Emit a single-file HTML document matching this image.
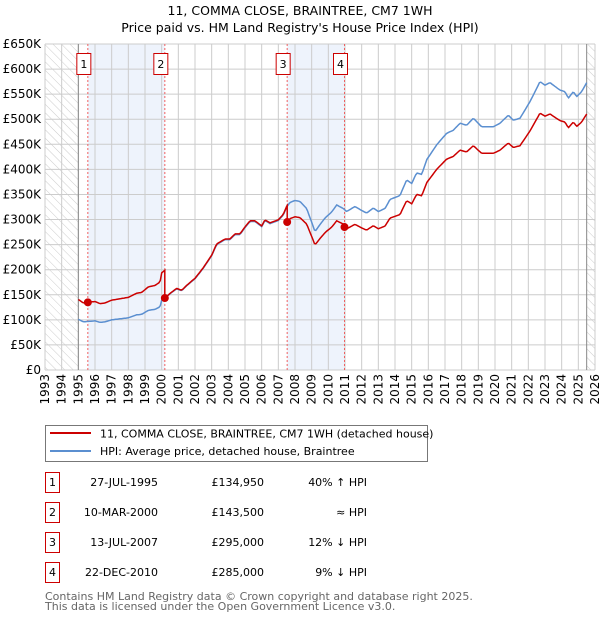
<!DOCTYPE html>
<html><head><meta charset="utf-8"><style>
body{margin:0;background:#fff;font-family:"Liberation Sans","DejaVu Sans",sans-serif}
svg text{font-family:"DejaVu Sans","Liberation Sans",sans-serif}
</style></head><body>
<svg id="c" width="600" height="620" xmlns="http://www.w3.org/2000/svg">
<defs><pattern id="hatch" width="6" height="6" patternUnits="userSpaceOnUse" patternTransform="rotate(-45)"><line x1="0" y1="0" x2="0" y2="6" stroke="#ccc" stroke-width="1"/></pattern></defs>
<text x="300" y="15" text-anchor="middle" font-size="12.5">11, COMMA CLOSE, BRAINTREE, CM7 1WH</text>
<text x="300" y="32" text-anchor="middle" font-size="12.5">Price paid vs. HM Land Registry's House Price Index (HPI)</text>
<g id="plot"></g>
<g>
<rect x="45.5" y="425.5" width="382" height="36" fill="#fff" stroke="#777"/>
<line x1="50" y1="433" x2="91" y2="433" stroke="#cc0000" stroke-width="2"/>
<text x="100" y="437.5" font-size="11">11, COMMA CLOSE, BRAINTREE, CM7 1WH (detached house)</text>
<line x1="50" y1="451" x2="91" y2="451" stroke="#5b8fd0" stroke-width="2"/>
<text x="100" y="455" font-size="11">HPI: Average price, detached house, Braintree</text>
</g>
<g id="table"></g>
<text x="45" y="600" font-size="11" fill="#666">Contains HM Land Registry data © Crown copyright and database right 2025.</text>
<text x="45" y="610" font-size="11" fill="#666">This data is licensed under the Open Government Licence v3.0.</text>
</svg>
<script>
const hpiYears=[1995.0,1995.3,1995.6,1996.0,1996.3,1996.6,1997.0,1997.5,1998.0,1998.5,1998.8,1999.2,1999.6,1999.9,2000.0,2000.2,2000.5,2000.9,2001.2,2001.5,2002.0,2002.5,2003.0,2003.3,2003.8,2004.1,2004.4,2004.7,2005.0,2005.3,2005.6,2006.0,2006.2,2006.5,2007.0,2007.3,2007.5,2007.7,2008.0,2008.3,2008.7,2009.2,2009.5,2009.8,2010.2,2010.5,2010.9,2011.1,2011.6,2012.0,2012.3,2012.7,2013.0,2013.4,2013.7,2014.3,2014.7,2015.0,2015.3,2015.6,2015.9,2016.5,2017.1,2017.5,2017.9,2018.3,2018.7,2019.2,2019.9,2020.3,2020.8,2021.1,2021.5,2022.1,2022.7,2023.0,2023.3,2023.9,2024.2,2024.4,2024.7,2024.9,2025.2,2025.5];
const hpiValues=[101,96,97,98,95,96,100,102,104,110,111,119,121,126,139,143,152,162,158,168,182,203,228,250,260,260,270,270,284,296,296,286,298,292,298,309,325,334,338,336,322,276,290,303,315,329,322,316,326,318,313,323,316,322,340,348,379,372,393,390,419,449,472,478,492,488,502,485,485,492,508,498,502,535,575,568,573,558,555,542,555,545,555,573];
const saleNums=["1","2","3","4"];
const saleDates=[1995.57,2000.19,2007.53,2010.97];
const saleLabels=["27-JUL-1995","10-MAR-2000","13-JUL-2007","22-DEC-2010"];
const salePrices=[134.95,143.5,295,285];
const salePriceText=["£134,950","£143,500","£295,000","£285,000"];
const saleRel=["40% ↑ HPI","≈ HPI","12% ↓ HPI","9% ↓ HPI"];
const yTicks=[0,50,100,150,200,250,300,350,400,450,500,550,600,650];
const yTickLabels=["£0","£50K","£100K","£150K","£200K","£250K","£300K","£350K","£400K","£450K","£500K","£550K","£600K","£650K"];
const xTicks=[1993,1994,1995,1996,1997,1998,1999,2000,2001,2002,2003,2004,2005,2006,2007,2008,2009,2010,2011,2012,2013,2014,2015,2016,2017,2018,2019,2020,2021,2022,2023,2024,2025,2026];

const X0=45,X1=595,Y0=370,Y1=44;
const xs=t=>X0+(t-1993)/(2026-1993)*(X1-X0);
const ys=v=>Y0-v/650*(Y0-Y1);
const NS="http://www.w3.org/2000/svg";
const plot=document.getElementById('plot');
function mk(tag,attrs,parent){const e=document.createElementNS(NS,tag);for(const k in attrs)e.setAttribute(k,attrs[k]);(parent||plot).appendChild(e);return e;}
function hpiAt(t){if(t<=hpiYears[0])return hpiValues[0];for(let i=1;i<hpiYears.length;i++){if(t<=hpiYears[i]){const f=(t-hpiYears[i-1])/(hpiYears[i]-hpiYears[i-1]);return hpiValues[i-1]+f*(hpiValues[i]-hpiValues[i-1]);}}return hpiValues[hpiValues.length-1];}

for(let i=0;i<saleDates.length;i+=2){
 const r=mk('rect',{x:xs(saleDates[i]),y:Y1,width:xs(saleDates[i+1])-xs(saleDates[i]),height:Y0-Y1,fill:'#eef3fc'});
 
 
}
let h=mk('rect',{x:X0,y:Y1,width:xs(1995)-X0,height:Y0-Y1,fill:'url(#hatch)'});


h=mk('rect',{x:xs(2025.5),y:Y1,width:X1-xs(2025.5),height:Y0-Y1,fill:'url(#hatch)'});


xTicks.forEach((t,i)=>{
 const l=mk('line',{x1:xs(t),x2:xs(t),y1:Y1,y2:Y0,stroke:'#ccc','stroke-width':1});
 
 
 const tx=mk('text',{x:0,y:0,'font-size':12,'text-anchor':'end',transform:`translate(${xs(t)+4},374) rotate(-90)`});
 tx.textContent=t;
 
 
});
yTicks.forEach((v,i)=>{
 const l=mk('line',{x1:X0,x2:X1,y1:ys(v),y2:ys(v),stroke:'#ccc','stroke-width':1});
 
 
 const tx=mk('text',{x:41,y:ys(v)+4,'font-size':12,'text-anchor':'end'});
 tx.textContent=yTickLabels[i];
 
 
});
let b=mk('line',{x1:xs(1995),x2:xs(1995),y1:Y1,y2:Y0,stroke:'#888'});


b=mk('line',{x1:xs(2025.5),x2:xs(2025.5),y1:Y1,y2:Y0,stroke:'#888'});


saleDates.forEach((d,i)=>{
 const l=mk('line',{x1:xs(d),x2:xs(d),y1:Y1,y2:Y0,stroke:'#f06060','stroke-dasharray':'2,2'});
 
 
 const g=mk('g',{});
 
 
 mk('rect',{x:xs(d)-11,y:53.5,width:14,height:21,fill:'#fff',stroke:'#cc0000'},g);
 const t=mk('text',{x:xs(d)-4,y:68,'font-size':11,'text-anchor':'middle'},g);t.textContent=saleNums[i];
});
let pts=[];
for(let t=1995;t<=2025.5001;t+=1/12) pts.push(xs(t).toFixed(1)+','+ys(hpiAt(t)).toFixed(1));
let hl=mk('polyline',{points:pts.join(' '),fill:'none',stroke:'#5b8fd0','stroke-width':1.5});


pts=[];
function refIdx(t){let k=0;for(let i=0;i<saleDates.length;i++) if(t>=saleDates[i]) k=i;return k;}
const step=1/12;
let times=[];for(let t=1995;t<=2025.5001;t+=step)times.push(t);
saleDates.forEach(d=>{times.push(d-0.0001);times.push(d);});
times.sort((a,b)=>a-b);
times.forEach(t=>{const k=refIdx(t);const v=salePrices[k]*hpiAt(t)/hpiAt(saleDates[k]);pts.push(xs(t).toFixed(1)+','+ys(v).toFixed(1));});
let pl=mk('polyline',{points:pts.join(' '),fill:'none',stroke:'#cc0000','stroke-width':1.5});


saleDates.forEach((d,i)=>{
 const c=mk('circle',{cx:xs(d),cy:ys(salePrices[i]),r:4,fill:'#cc0000'});
 
 
});
const tb=document.getElementById('table');
saleDates.forEach((d,i)=>{
 const y=483+i*30;
 const g=mk('g',{},tb);
 
 
 mk('rect',{x:45.5,y:y-10.5,width:14,height:20,fill:'#fff',stroke:'#cc0000'},g);
 let t=mk('text',{x:52.5,y:y+3,'font-size':11,'text-anchor':'middle'},g);t.textContent=saleNums[i];
 t=mk('text',{x:158,y:y+3,'font-size':11,'text-anchor':'end'},g);t.textContent=saleLabels[i];
 t=mk('text',{x:264,y:y+3,'font-size':11,'text-anchor':'end'},g);t.textContent=salePriceText[i];
 t=mk('text',{x:367,y:y+3,'font-size':11,'text-anchor':'end'},g);t.textContent=saleRel[i];
});
</script>
</body></html>
